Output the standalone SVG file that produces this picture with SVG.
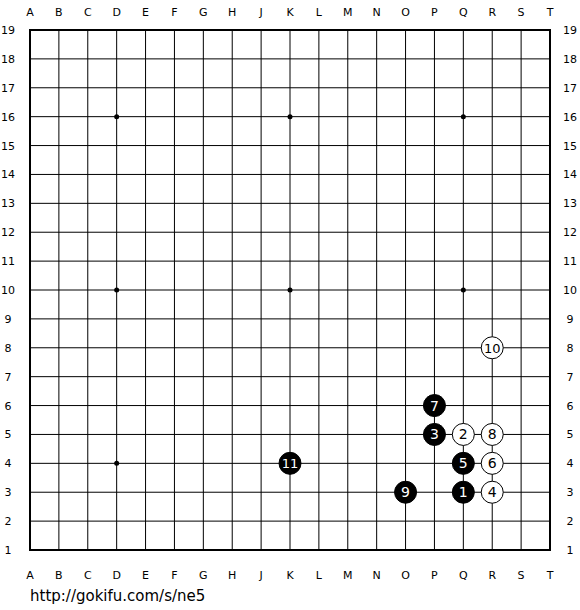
<svg xmlns="http://www.w3.org/2000/svg" width="580" height="610" viewBox="0 0 580 610">
<style>
.g{stroke:#000;stroke-width:1;fill:none}
.lb{font-family:"DejaVu Sans",sans-serif;font-size:11px;fill:#000;text-anchor:middle}
.b{fill:#000;stroke:#000;stroke-width:1}
.w{fill:#fff;stroke:#000;stroke-width:1}
.tb{font-family:"DejaVu Sans",sans-serif;font-size:14px;fill:#fff;text-anchor:middle}
.tw{font-family:"DejaVu Sans",sans-serif;font-size:14px;fill:#000;text-anchor:middle}
</style>
<rect width="580" height="610" fill="#fff"/>
<g id="grid">
<path class="g" d="M30 58.89H550M30 87.78H550M30 116.67H550M30 145.56H550M30 174.44H550M30 203.33H550M30 232.22H550M30 261.11H550M30 290H550M30 318.89H550M30 347.78H550M30 376.67H550M30 405.56H550M30 434.44H550M30 463.33H550M30 492.22H550M30 521.11H550"/>
<path class="g" d="M58.89 30V550M87.78 30V550M116.67 30V550M145.56 30V550M174.44 30V550M203.33 30V550M232.22 30V550M261.11 30V550M290 30V550M318.89 30V550M347.78 30V550M376.67 30V550M405.56 30V550M434.44 30V550M463.33 30V550M492.22 30V550M521.11 30V550"/>
<rect x="30" y="30" width="520" height="520" fill="none" stroke="#000" stroke-width="2"/>
</g>
<g id="stars">
<circle cx="116.67" cy="116.67" r="2.5"/><circle cx="290" cy="116.67" r="2.5"/><circle cx="463.33" cy="116.67" r="2.5"/>
<circle cx="116.67" cy="290" r="2.5"/><circle cx="290" cy="290" r="2.5"/><circle cx="463.33" cy="290" r="2.5"/>
<circle cx="116.67" cy="463.33" r="2.5"/><circle cx="290" cy="463.33" r="2.5"/><circle cx="463.33" cy="463.33" r="2.5"/>
</g>
<g id="labels" class="lb">
<text x="30" y="16">A</text><text x="58.89" y="16">B</text><text x="87.78" y="16">C</text><text x="116.67" y="16">D</text><text x="145.56" y="16">E</text><text x="174.44" y="16">F</text><text x="203.33" y="16">G</text><text x="232.22" y="16">H</text><text x="261.11" y="16">J</text><text x="290" y="16">K</text><text x="318.89" y="16">L</text><text x="347.78" y="16">M</text><text x="376.67" y="16">N</text><text x="405.56" y="16">O</text><text x="434.44" y="16">P</text><text x="463.33" y="16">Q</text><text x="492.22" y="16">R</text><text x="521.11" y="16">S</text><text x="550" y="16">T</text>
<text x="30" y="579">A</text><text x="58.89" y="579">B</text><text x="87.78" y="579">C</text><text x="116.67" y="579">D</text><text x="145.56" y="579">E</text><text x="174.44" y="579">F</text><text x="203.33" y="579">G</text><text x="232.22" y="579">H</text><text x="261.11" y="579">J</text><text x="290" y="579">K</text><text x="318.89" y="579">L</text><text x="347.78" y="579">M</text><text x="376.67" y="579">N</text><text x="405.56" y="579">O</text><text x="434.44" y="579">P</text><text x="463.33" y="579">Q</text><text x="492.22" y="579">R</text><text x="521.11" y="579">S</text><text x="550" y="579">T</text>
<text x="8" y="34">19</text><text x="8" y="62.89">18</text><text x="8" y="91.78">17</text><text x="8" y="120.67">16</text><text x="8" y="149.56">15</text><text x="8" y="178.44">14</text><text x="8" y="207.33">13</text><text x="8" y="236.22">12</text><text x="8" y="265.11">11</text><text x="8" y="294">10</text><text x="8" y="322.89">9</text><text x="8" y="351.78">8</text><text x="8" y="380.67">7</text><text x="8" y="409.56">6</text><text x="8" y="438.44">5</text><text x="8" y="467.33">4</text><text x="8" y="496.22">3</text><text x="8" y="525.11">2</text><text x="8" y="554">1</text>
<text x="570" y="34">19</text><text x="570" y="62.89">18</text><text x="570" y="91.78">17</text><text x="570" y="120.67">16</text><text x="570" y="149.56">15</text><text x="570" y="178.44">14</text><text x="570" y="207.33">13</text><text x="570" y="236.22">12</text><text x="570" y="265.11">11</text><text x="570" y="294">10</text><text x="570" y="322.89">9</text><text x="570" y="351.78">8</text><text x="570" y="380.67">7</text><text x="570" y="409.56">6</text><text x="570" y="438.44">5</text><text x="570" y="467.33">4</text><text x="570" y="496.22">3</text><text x="570" y="525.11">2</text><text x="570" y="554">1</text>
</g>
<g id="s1"><circle class="b" cx="463.33" cy="492.22" r="11"/><text class="tb" x="463.33" y="497.2">1</text></g>
<g id="s2"><circle class="w" cx="463.33" cy="434.44" r="11"/><text class="tw" x="463.33" y="439.4">2</text></g>
<g id="s3"><circle class="b" cx="434.44" cy="434.44" r="11"/><text class="tb" x="434.44" y="439.4">3</text></g>
<g id="s4"><circle class="w" cx="492.22" cy="492.22" r="11"/><text class="tw" x="492.22" y="497.2">4</text></g>
<g id="s5"><circle class="b" cx="463.33" cy="463.33" r="11"/><text class="tb" x="463.33" y="468.3">5</text></g>
<g id="s6"><circle class="w" cx="492.22" cy="463.33" r="11"/><text class="tw" x="492.22" y="468.3">6</text></g>
<g id="s7"><circle class="b" cx="434.44" cy="405.56" r="11"/><text class="tb" x="434.44" y="410.5">7</text></g>
<g id="s8"><circle class="w" cx="492.22" cy="434.44" r="11"/><text class="tw" x="492.22" y="439.4">8</text></g>
<g id="s9"><circle class="b" cx="405.56" cy="492.22" r="11"/><text class="tb" x="405.56" y="497.2">9</text></g>
<g id="s10"><circle class="w" cx="492.22" cy="347.78" r="11"/><text class="tw" x="492.22" y="352.8" style="font-size:13px">10</text></g>
<g id="s11"><circle class="b" cx="290" cy="463.33" r="11"/><text class="tb" x="290" y="468.3" style="font-size:13px">11</text></g>
<text x="30" y="601" style="font-family:'DejaVu Sans',sans-serif;font-size:15px;fill:#000">http://gokifu.com/s/ne5</text>
</svg>
